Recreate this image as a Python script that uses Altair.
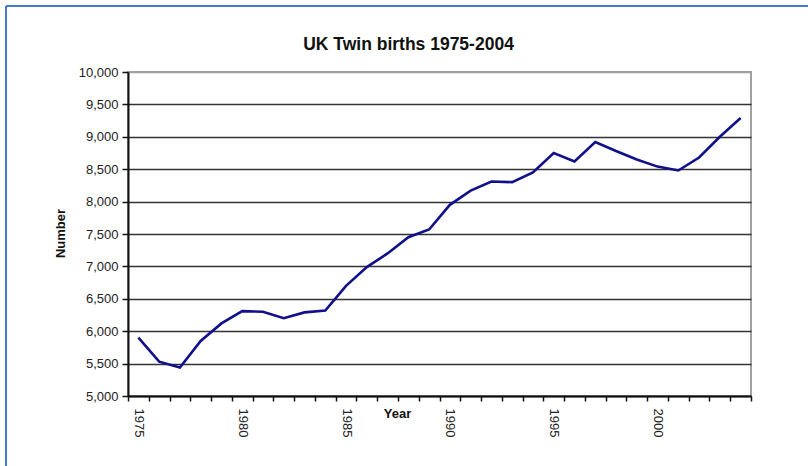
import altair as alt
import pandas as pd

# UK twin births per year
years = list(range(1975, 2005))
twins = [5900, 5530, 5440, 5850, 6120, 6310, 6300, 6200, 6290, 6320,
         6700, 6990, 7200, 7450, 7570, 7950, 8170, 8310, 8300, 8450,
         8750, 8620, 8920, 8780, 8650, 8540, 8480, 8680, 9000, 9290]
y_ticks = list(range(5000, 10001, 500))

df = pd.DataFrame({"year": years, "twins": twins})

FONT = "Liberation Sans"
W, H = 623, 324
LEFT, TOP = 128, 72

x_axis = alt.Axis(
    title="Year",
    titleFont=FONT, titleFontSize=13, titleFontWeight="bold", titleColor="#111",
    titleX=269, titleY=17, titleAlign="center", titleBaseline="middle",
    labelExpr="datum.value % 5 == 0 ? datum.label : ''",
    labelAngle=90, labelAlign="left", labelBaseline="middle", labelPadding=7,
    labelFont=FONT, labelFontSize=13, labelColor="#222",
    tickBand="extent", tickSize=5, tickColor="#111", tickWidth=1.5,
    domainColor="#111", domainWidth=2, grid=False,
)

y_axis = alt.Axis(
    title="Number",
    titleFont=FONT, titleFontSize=13, titleFontWeight="bold", titleColor="#111",
    titleX=-68, titleY=161, titleAngle=270, titleAlign="center", titleBaseline="middle",
    values=y_ticks, format=",d",
    labelFont=FONT, labelFontSize=13, labelColor="#222", labelPadding=4,
    tickSize=6, tickColor="#111", tickWidth=1.5,
    domainColor="#111", domainWidth=2,
    grid=True, gridWidth=1.5,
    gridColor={"condition": {"test": "datum.value === 10000", "value": "#a0a0a0"}, "value": "#333333"},
)

line = alt.Chart(df).mark_line(color="#10108a", strokeWidth=2.6).encode(
    x=alt.X("year:O", scale=alt.Scale(type="band", paddingInner=0, paddingOuter=0), axis=x_axis),
    y=alt.Y("twins:Q", scale=alt.Scale(domain=[5000, 10000], nice=False, zero=False), axis=y_axis),
)

# outer frame edges (left and top)
frame_left = alt.Chart(df).mark_rule(color="#3f80c8", strokeWidth=2).encode(
    x=alt.value(6 - LEFT), y=alt.value(6 - TOP), y2=alt.value(466 - TOP + 5)
)
frame_top = alt.Chart(df).mark_rule(color="#3f80c8", strokeWidth=2).encode(
    x=alt.value(6 - LEFT), x2=alt.value(808 - LEFT + 5), y=alt.value(6 - TOP)
)

chart = alt.layer(line, frame_left, frame_top).properties(
    width=W, height=H,
    title=alt.TitleParams(
        "UK Twin births 1975-2004", font=FONT, fontSize=17.5, fontWeight="bold",
        color="#111", anchor="middle", frame="group", dx=-31, offset=16, dy=64,
    ),
    padding={"left": LEFT, "top": TOP, "right": 808 - LEFT - W, "bottom": 466 - TOP - H},
    autosize="none",
).configure_view(stroke="#a0a0a0", strokeWidth=2)

chart.save("out.html", embed_options={"renderer": "svg", "actions": False})
